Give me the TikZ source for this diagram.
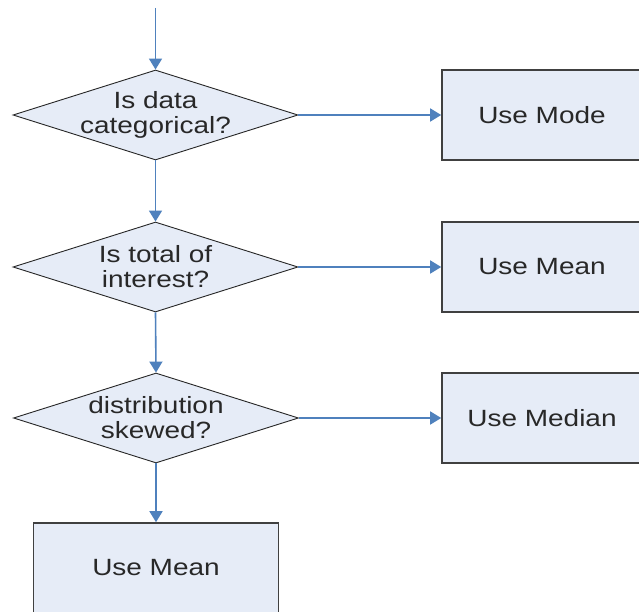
\documentclass[tikz,border=0pt]{standalone}
\usepackage{fontspec}
\setmainfont{Liberation Sans}[FakeStretch=1.19]
\usetikzlibrary{shapes.geometric,arrows.meta}
\definecolor{flowblue}{RGB}{79,129,189}
\definecolor{boxfill}{RGB}{230,236,247}
\definecolor{boxline}{RGB}{64,64,64}
\definecolor{textgray}{RGB}{40,40,40}
\tikzset{
  decision/.style={diamond, draw=black!85, line width=0.9pt, fill=boxfill,
    minimum width=285pt, minimum height=90pt, inner sep=0pt},
  qtext/.style={align=center, text=textgray, inner sep=0pt,
    font=\fontsize{23.5}{25}\selectfont},
  action/.style={rectangle, draw=boxline, line width=1.6pt, fill=boxfill,
    minimum height=90pt, inner sep=0pt, text=textgray,
    font=\fontsize{23.5}{25}\selectfont},
  flow/.style={draw=flowblue, line width=1.6pt,
    -{Triangle[width=13pt,length=11pt]}}
}
\begin{document}
\begin{tikzpicture}[x=1pt,y=-1pt]
\useasboundingbox[fill=white] (0,0) rectangle (639,612);

% decision diamonds
\node[decision] (d1) at (155.5,115) {};
\node[qtext] (t1) at (d1) {Is data\\categorical?};
\node[decision] (d2) at (155.5,267) {};
\node[qtext] (t2) at (d2) {Is total of\\interest?};
\node[decision] (d3) at (156,418) {};
\node[qtext] (t3) at (d3) {distribution\\skewed?};

% outcome boxes
\node[action, minimum width=200pt] (mode) at (542,115) {Use Mode};
\node[action, minimum width=200pt] (mean) at (542,267) {Use Mean};
\node[action, minimum width=200pt] (median) at (542,418) {Use Median};
\node[action, minimum width=245pt] (meanb) at (156,568) {Use Mean};

% connectors
\coordinate (start) at (155.5,8);
\draw[flow] (start) -- (d1.north);
\draw[flow] (d1.east) -- (mode.west);
\draw[flow] (d1.south) -- (d2.north);
\draw[flow] (d2.east) -- (mean.west);
\draw[flow] (d2.south) -- (d3.north);
\draw[flow] (d3.east) -- (median.west);
\draw[flow] (d3.south) -- (meanb.north);
\end{tikzpicture}
\end{document}
